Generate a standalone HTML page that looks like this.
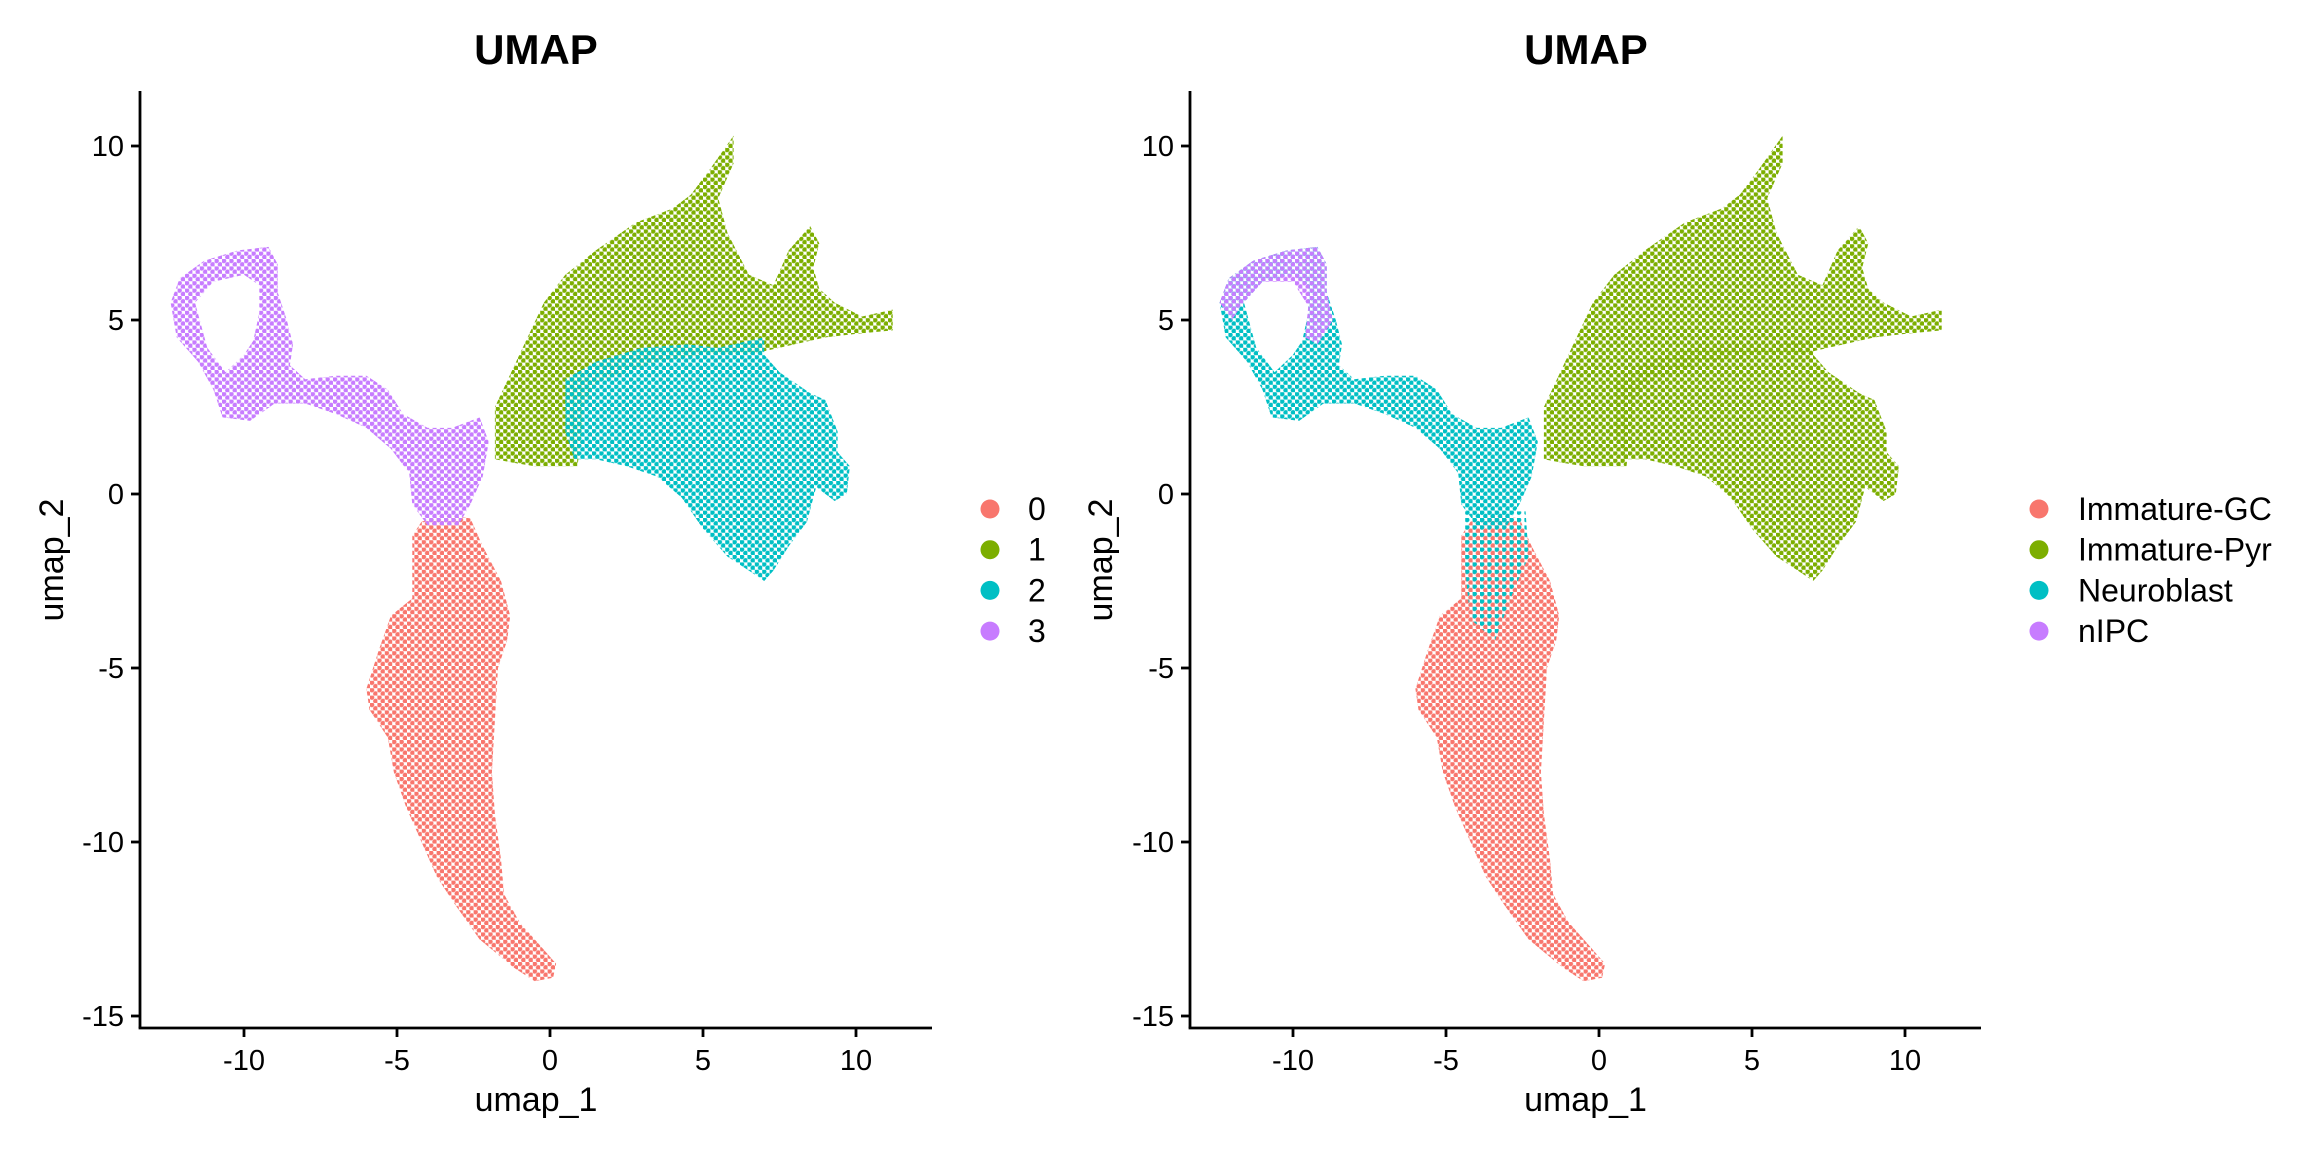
<!DOCTYPE html>
<html><head><meta charset="utf-8"><style>
html,body{margin:0;padding:0;background:#fff;}
svg{display:block;font-family:"Liberation Sans",Arial,sans-serif;}
</style></head><body>
<svg id="fig" width="2304" height="1152" viewBox="0 0 2304 1152" xmlns="http://www.w3.org/2000/svg">
<defs></defs>
<g id="root"></g>
</svg>
<script>
// ---- data (UMAP coordinates, outline polygons of each cluster's cell cloud) ----
const categoriesLeft = ["0","1","2","3"];
const categoriesRight = ["Immature-GC","Immature-Pyr","Neuroblast","nIPC"];
const colors = ["#F8766D","#7CAE00","#00BFC4","#C77CFF"];
const xTicks = [-10,-5,0,5,10];
const yTicks = [10,5,0,-5,-10,-15];
const xTickLabels = ["-10","-5","0","5","10"];
const yTickLabels = ["10","5","0","-5","-10","-15"];

const cluster0Outline = [[-4.2,-0.8],[-3.5,-0.6],[-2.6,-0.7],[-2.2,-1.5],[-1.6,-2.5],[-1.3,-3.5],[-1.4,-4.2],[-1.7,-5],[-1.8,-6.5],[-1.9,-8],[-1.8,-9.2],[-1.6,-10.5],[-1.5,-11.5],[-1.0,-12.3],[-0.4,-12.9],[0.2,-13.5],[0.1,-13.9],[-0.5,-14.0],[-1.2,-13.6],[-2.3,-12.8],[-3.1,-11.8],[-3.7,-11],[-4.2,-10],[-4.7,-9],[-5.1,-8],[-5.3,-7],[-5.9,-6.2],[-6.0,-5.6],[-5.6,-4.5],[-5.2,-3.5],[-4.5,-3],[-4.5,-2],[-4.5,-1.2]];
const cluster1Outline = [[-1.8,1.0],[-1.8,2.5],[-1.0,4],[-0.2,5.5],[0.5,6.3],[1.5,7.0],[2.8,7.8],[4,8.2],[4.6,8.6],[5.2,9.3],[6,10.3],[6.0,9.5],[5.5,8.5],[5.8,7.5],[6.5,6.3],[7.3,6.0],[7.8,7.0],[8.5,7.7],[8.8,7.2],[8.6,6.5],[8.8,5.9],[9.3,5.5],[10.2,5.1],[11.2,5.3],[11.2,4.7],[10,4.6],[9,4.5],[7.5,4.2],[6.5,4.0],[5,4.0],[3.5,3.8],[2.5,3.5],[1.5,3.2],[1.1,2.5],[1.0,1.5],[0.9,0.8],[-0.5,0.8],[-1.2,0.9]];
const cluster2Outline = [[0.5,3.3],[1.5,3.8],[3,4.2],[4.5,4.3],[5.5,4.2],[7,4.5],[7,4.0],[7.5,3.5],[8.5,2.9],[9,2.7],[9.4,1.8],[9.4,1.2],[9.8,0.8],[9.7,0.0],[9.3,-0.2],[8.7,0.2],[8.4,-0.8],[7.8,-1.5],[7.3,-2.2],[7.0,-2.5],[6.5,-2.2],[5.8,-1.8],[5,-1],[4.3,-0.1],[3.5,0.5],[2.5,0.8],[1.5,1.0],[0.8,1.0],[0.5,1.8]];
const cluster3Outline = [[-12.4,5.5],[-12.1,6.2],[-11.3,6.7],[-10.2,7.0],[-9.2,7.1],[-8.9,6.6],[-8.9,5.8],[-8.6,5.0],[-8.4,4.3],[-8.5,3.7],[-8.0,3.3],[-7.0,3.4],[-6.0,3.4],[-5.3,3.0],[-4.8,2.3],[-4.0,1.9],[-3.2,1.9],[-2.3,2.2],[-2.0,1.5],[-2.2,0.5],[-2.6,-0.3],[-3.0,-0.9],[-4.0,-0.9],[-4.5,-0.3],[-4.6,0.6],[-5.2,1.3],[-6.0,1.9],[-7.0,2.3],[-8.0,2.6],[-9.0,2.6],[-9.8,2.1],[-10.7,2.2],[-11.0,3.0],[-11.5,3.8],[-12.2,4.5]];
const cluster3Hole = [[-11.6,5.5],[-11,6.1],[-10,6.3],[-9.5,6.0],[-9.5,5.2],[-9.7,4.4],[-10,4.0],[-10.6,3.5],[-11.2,4.2]];
const nipcLoopOutline = [[-12.4,5.5],[-12.1,6.2],[-11.3,6.7],[-10.2,7.0],[-9.2,7.1],[-8.9,6.6],[-8.9,5.8],[-8.7,5.0],[-9.2,4.3],[-9.6,4.5],[-9.5,5.4],[-10,6.1],[-11,6.1],[-11.7,5.4],[-12.0,5.0]];
const neuroblastMixOutline = [[-4.4,-0.5],[-2.4,-0.5],[-2.3,-1.8],[-2.8,-2.8],[-3.4,-4.2],[-4.2,-3.6],[-4.4,-2]];

// ---- layout ----
const root = document.getElementById('root');
const NS = "http://www.w3.org/2000/svg";
const PX = 30.6, PY = 34.8, Y0 = 494;
function mk(tag, attrs, parent){ const e=document.createElementNS(NS,tag); for(const k in attrs) e.setAttribute(k,attrs[k]); (parent||root).appendChild(e); return e; }
function makeScales(x0){ return { x: v=>x0+PX*v, y: v=>Y0-PY*v }; }
function ringPath(s, pts){ return pts.map((p,i)=>(i?"L":"M")+s.x(p[0]).toFixed(1)+","+s.y(p[1]).toFixed(1)).join("")+"Z"; }

const defs=document.querySelector('defs');
colors.forEach((c,i)=>{
  const p=mk('pattern',{id:'pat'+i,patternUnits:'userSpaceOnUse',width:7.4,height:7.4},defs);
  
  
  mk('circle',{cx:1.85,cy:1.85,r:2.45,fill:c},p);
  mk('circle',{cx:5.55,cy:5.55,r:2.45,fill:c},p);
  const h=mk('pattern',{id:'half'+i,patternUnits:'userSpaceOnUse',width:7.4,height:7.4},defs);
  
  
  mk('circle',{cx:1.85,cy:1.85,r:2.45,fill:c},h);
});

function drawCloud(g, s, rings, pat, name){
  const p = mk('path',{d:rings.map(r=>ringPath(s,r)).join(""), fill:'url(#'+pat+')', 'fill-rule':'evenodd'}, g);
  
  
}

function drawPanel(x0, xl, xr, titleX, ytitleX, legendKeyX, legendTextX, cats, name){
  const s = makeScales(x0);
  const g = mk('g',{});
  
  
  const ya = mk('line',{x1:xl,y1:91,x2:xl,y2:1028,stroke:'#000','stroke-width':2.8},g);
  
  
  const xa = mk('line',{x1:xl-1.4,y1:1028,x2:xr,y2:1028,stroke:'#000','stroke-width':2.8},g);
  
  
  xTicks.forEach((v,i)=>{
    const t=mk('line',{x1:s.x(v),y1:1028,x2:s.x(v),y2:1037,stroke:'#000','stroke-width':2.8},g);
    
    
    const l=mk('text',{x:s.x(v),y:1070,'text-anchor':'middle','font-size':29,fill:'#000'},g);
    l.textContent=xTickLabels[i];
    
    
  });
  yTicks.forEach((v,i)=>{
    const t=mk('line',{x1:xl-9,y1:s.y(v),x2:xl,y2:s.y(v),stroke:'#000','stroke-width':2.8},g);
    
    
    const l=mk('text',{x:xl-16,y:s.y(v)+10,'text-anchor':'end','font-size':29,fill:'#000'},g);
    l.textContent=yTickLabels[i];
    
    
  });
  const xt=mk('text',{x:(xl+xr)/2,y:1111,'text-anchor':'middle','font-size':34,fill:'#000'},g);
  xt.textContent='umap_1';
  
  
  const yt=mk('text',{x:0,y:0,'text-anchor':'middle','font-size':34,fill:'#000',transform:'translate('+(ytitleX+12)+',560) rotate(-90)'},g);
  yt.textContent='umap_2';
  
  
  const ti=mk('text',{x:titleX,y:64,'text-anchor':'middle','font-size':42,'font-weight':'bold',fill:'#000'},g);
  ti.textContent='UMAP';
  
  
  cats.forEach((c,i)=>{
    const cy = 509 + i*40.7;
    const k=mk('circle',{cx:legendKeyX,cy:cy,r:9.5,fill:colors[i]},g);
    
    
    const t=mk('text',{x:legendTextX,y:cy+11,'font-size':32,fill:'#000'},g);
    t.textContent=c;
    
    
  });
  return {s, g};
}

const L = drawPanel(550, 140, 932, 536, 51, 990, 1028, categoriesLeft, 'left-umap-panel');
drawCloud(L.g, L.s, [cluster0Outline], 'pat0', 'cluster-0-cells');
drawCloud(L.g, L.s, [cluster1Outline], 'pat1', 'cluster-1-cells');
drawCloud(L.g, L.s, [cluster2Outline], 'pat2', 'cluster-2-cells');
drawCloud(L.g, L.s, [cluster3Outline, cluster3Hole], 'pat3', 'cluster-3-cells');

const R = drawPanel(1599, 1190, 1981, 1586, 1100, 2039, 2078, categoriesRight, 'right-umap-panel');
drawCloud(R.g, R.s, [cluster0Outline], 'pat0', 'immature-gc-cells');
drawCloud(R.g, R.s, [cluster1Outline], 'pat1', 'immature-pyr-cells-a');
drawCloud(R.g, R.s, [cluster2Outline], 'pat1', 'immature-pyr-cells-b');
drawCloud(R.g, R.s, [cluster3Outline, cluster3Hole], 'pat2', 'neuroblast-cells');
drawCloud(R.g, R.s, [neuroblastMixOutline], 'half2', 'neuroblast-mixed-cells');
drawCloud(R.g, R.s, [nipcLoopOutline], 'pat3', 'nipc-cells');
</script>
</body></html>
